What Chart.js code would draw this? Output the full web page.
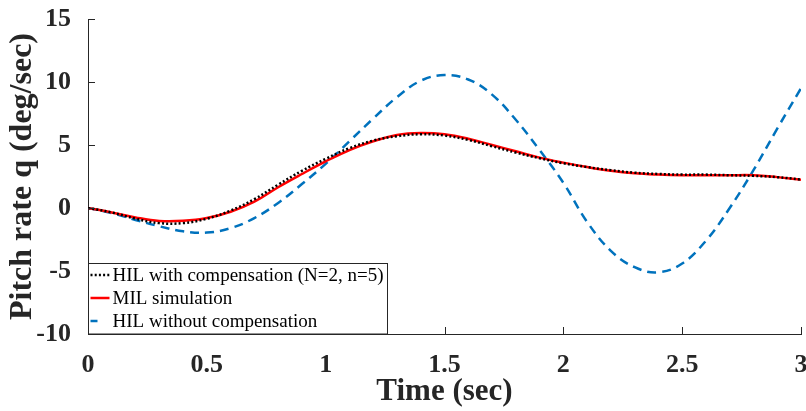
<!DOCTYPE html>
<html>
<head>
<meta charset="utf-8">
<script src="https://cdn.jsdelivr.net/npm/chart.js@4.4.1/dist/chart.umd.min.js"></script>
<style>
  html, body { margin: 0; padding: 0; background: #fff; }
  #wrap { width: 806px; height: 411px; }
</style>
</head>
<body>
<div id="wrap"><canvas id="grafica"></canvas></div>
<script>
// Datos
const tiempo = [0, 0.1, 0.2, 0.3, 0.4, 0.5, 0.6, 0.7, 0.8, 0.9, 1.0, 1.1, 1.2, 1.3, 1.4, 1.5,
                1.6, 1.7, 1.8, 1.9, 2.0, 2.1, 2.2, 2.3, 2.4, 2.5, 2.6, 2.7, 2.8, 2.9, 3.0];
const hilConComp = [0, -0.35, -0.85, -1.2, -1.2, -0.85, -0.2, 0.7, 1.85, 2.95, 3.9, 4.75, 5.35, 5.7, 5.85, 5.75,
                    5.4, 4.9, 4.4, 3.95, 3.55, 3.25, 3.0, 2.8, 2.7, 2.65, 2.65, 2.6, 2.55, 2.45, 2.25];
const milSim = [0, -0.35, -0.75, -1.03, -1.02, -0.8, -0.3, 0.5, 1.65, 2.7, 3.7, 4.6, 5.3, 5.8, 5.95, 5.85,
                5.5, 5.0, 4.5, 4.0, 3.6, 3.25, 2.95, 2.75, 2.65, 2.6, 2.6, 2.6, 2.6, 2.45, 2.25];
const hilSinComp = [0, -0.4, -0.95, -1.45, -1.85, -1.95, -1.6, -0.8, 0.4, 1.9, 3.5, 5.3, 7.1, 8.8, 10.1, 10.55,
                    10.2, 9.0, 7.0, 4.6, 2.0, -1.1, -3.4, -4.7, -5.1, -4.4, -2.6, 0.0, 3.0, 6.3, 9.5];
const ticksX = [0, 0.5, 1, 1.5, 2, 2.5, 3];
const ticksY = [-10, -5, 0, 5, 10, 15];
const nombres = ['HIL with compensation (N=2, n=5)', 'MIL simulation', 'HIL without compensation'];

const serif = "'Liberation Serif', 'Times New Roman', serif";
const gris = '#262626';

const puntos = serie => tiempo.map((t, i) => ({ x: t, y: serie[i] }));

// Marcas de los ejes hacia dentro y leyenda dentro del area
const extras = {
    id: 'extras',
    afterDatasetsDraw(chart) {
        const ctx = chart.ctx;
        const area = chart.chartArea;
        const sx = chart.scales.x, sy = chart.scales.y;
        ctx.save();
        ctx.strokeStyle = gris;
        ctx.lineWidth = 1;
        ctx.beginPath();
        ticksX.forEach(v => {
            const px = Math.round(sx.getPixelForValue(v)) + 0.5;
            ctx.moveTo(px, area.bottom);
            ctx.lineTo(px, area.bottom - 7);
        });
        ticksY.forEach(v => {
            const py = Math.round(sy.getPixelForValue(v)) + 0.5;
            ctx.moveTo(area.left, py);
            ctx.lineTo(area.left + 7, py);
        });
        ctx.stroke();

        // Leyenda
        const x0 = area.left + 0.5, y0 = 263.5, w = 299, h = area.bottom - 263.5;
        ctx.fillStyle = '#fff';
        ctx.fillRect(x0, y0, w, h);
        ctx.strokeStyle = gris;
        ctx.strokeRect(x0, y0, w, h);
        ctx.font = '19px ' + serif;
        ctx.textBaseline = 'middle';
        ctx.fillStyle = '#000';
        const filas = [275, 298, 321];
        chart.data.datasets.forEach((ds, i) => {
            ctx.beginPath();
            ctx.strokeStyle = ds.borderColor;
            ctx.lineWidth = ds.borderWidth;
            ctx.setLineDash(ds.borderDash || []);
            ctx.moveTo(x0 + 2, filas[i]);
            ctx.lineTo(x0 + (i === 2 ? 9 : 21), filas[i]);
            ctx.stroke();
            ctx.setLineDash([]);
            ctx.fillText(ds.label, x0 + 24, filas[i] + 1);
        });
        ctx.restore();
    }
};

new Chart(document.getElementById('grafica'), {
    type: 'line',
    data: {
        datasets: [
            { label: nombres[0], data: puntos(hilConComp), borderColor: '#000000', borderWidth: 2.5, borderDash: [2, 2.2] },
            { label: nombres[1], data: puntos(milSim), borderColor: '#ff0000', borderWidth: 2.5 },
            { label: nombres[2], data: puntos(hilSinComp), borderColor: '#0072bd', borderWidth: 2.5, borderDash: [9, 6] }
        ]
    },
    options: {
        responsive: true,
        maintainAspectRatio: false,
        animation: false,
        elements: { point: { radius: 0 }, line: { tension: 0.4, fill: false } },
        layout: { padding: { left: 0, right: 5, top: 19, bottom: 0 } },
        plugins: { legend: { display: false }, tooltip: { enabled: false } },
        scales: {
            x: {
                type: 'linear', min: 0, max: 3,
                afterBuildTicks: s => { s.ticks = ticksX.map(v => ({ value: v })); },
                afterFit: s => { s.height = 77; s.paddingLeft = 0; s.paddingRight = 0; },
                grid: { display: false },
                border: { display: true, color: gris, width: 1 },
                ticks: { color: gris, padding: 8, font: { family: serif, size: 26, weight: 'bold' }, maxRotation: 0,
                         callback: v => String(v) },
                title: { display: true, text: 'Time (sec)', color: gris, padding: 0,
                         font: { family: serif, size: 31, weight: 'bold' } }
            },
            y: {
                type: 'linear', min: -10, max: 15,
                afterBuildTicks: s => { s.ticks = ticksY.map(v => ({ value: v })); },
                afterFit: s => { s.width = 88; s.paddingTop = 0; s.paddingBottom = 0; },
                grid: { display: false },
                border: { display: true, color: gris, width: 1 },
                ticks: { color: gris, padding: 9, font: { family: serif, size: 26, weight: 'bold' },
                         callback: v => String(v) },
                title: { display: true, text: 'Pitch rate q (deg/sec)', color: gris, padding: { top: 4, bottom: 4 },
                         font: { family: serif, size: 32, weight: 'bold' } }
            }
        }
    },
    plugins: [extras]
});
</script>
</body>
</html>
